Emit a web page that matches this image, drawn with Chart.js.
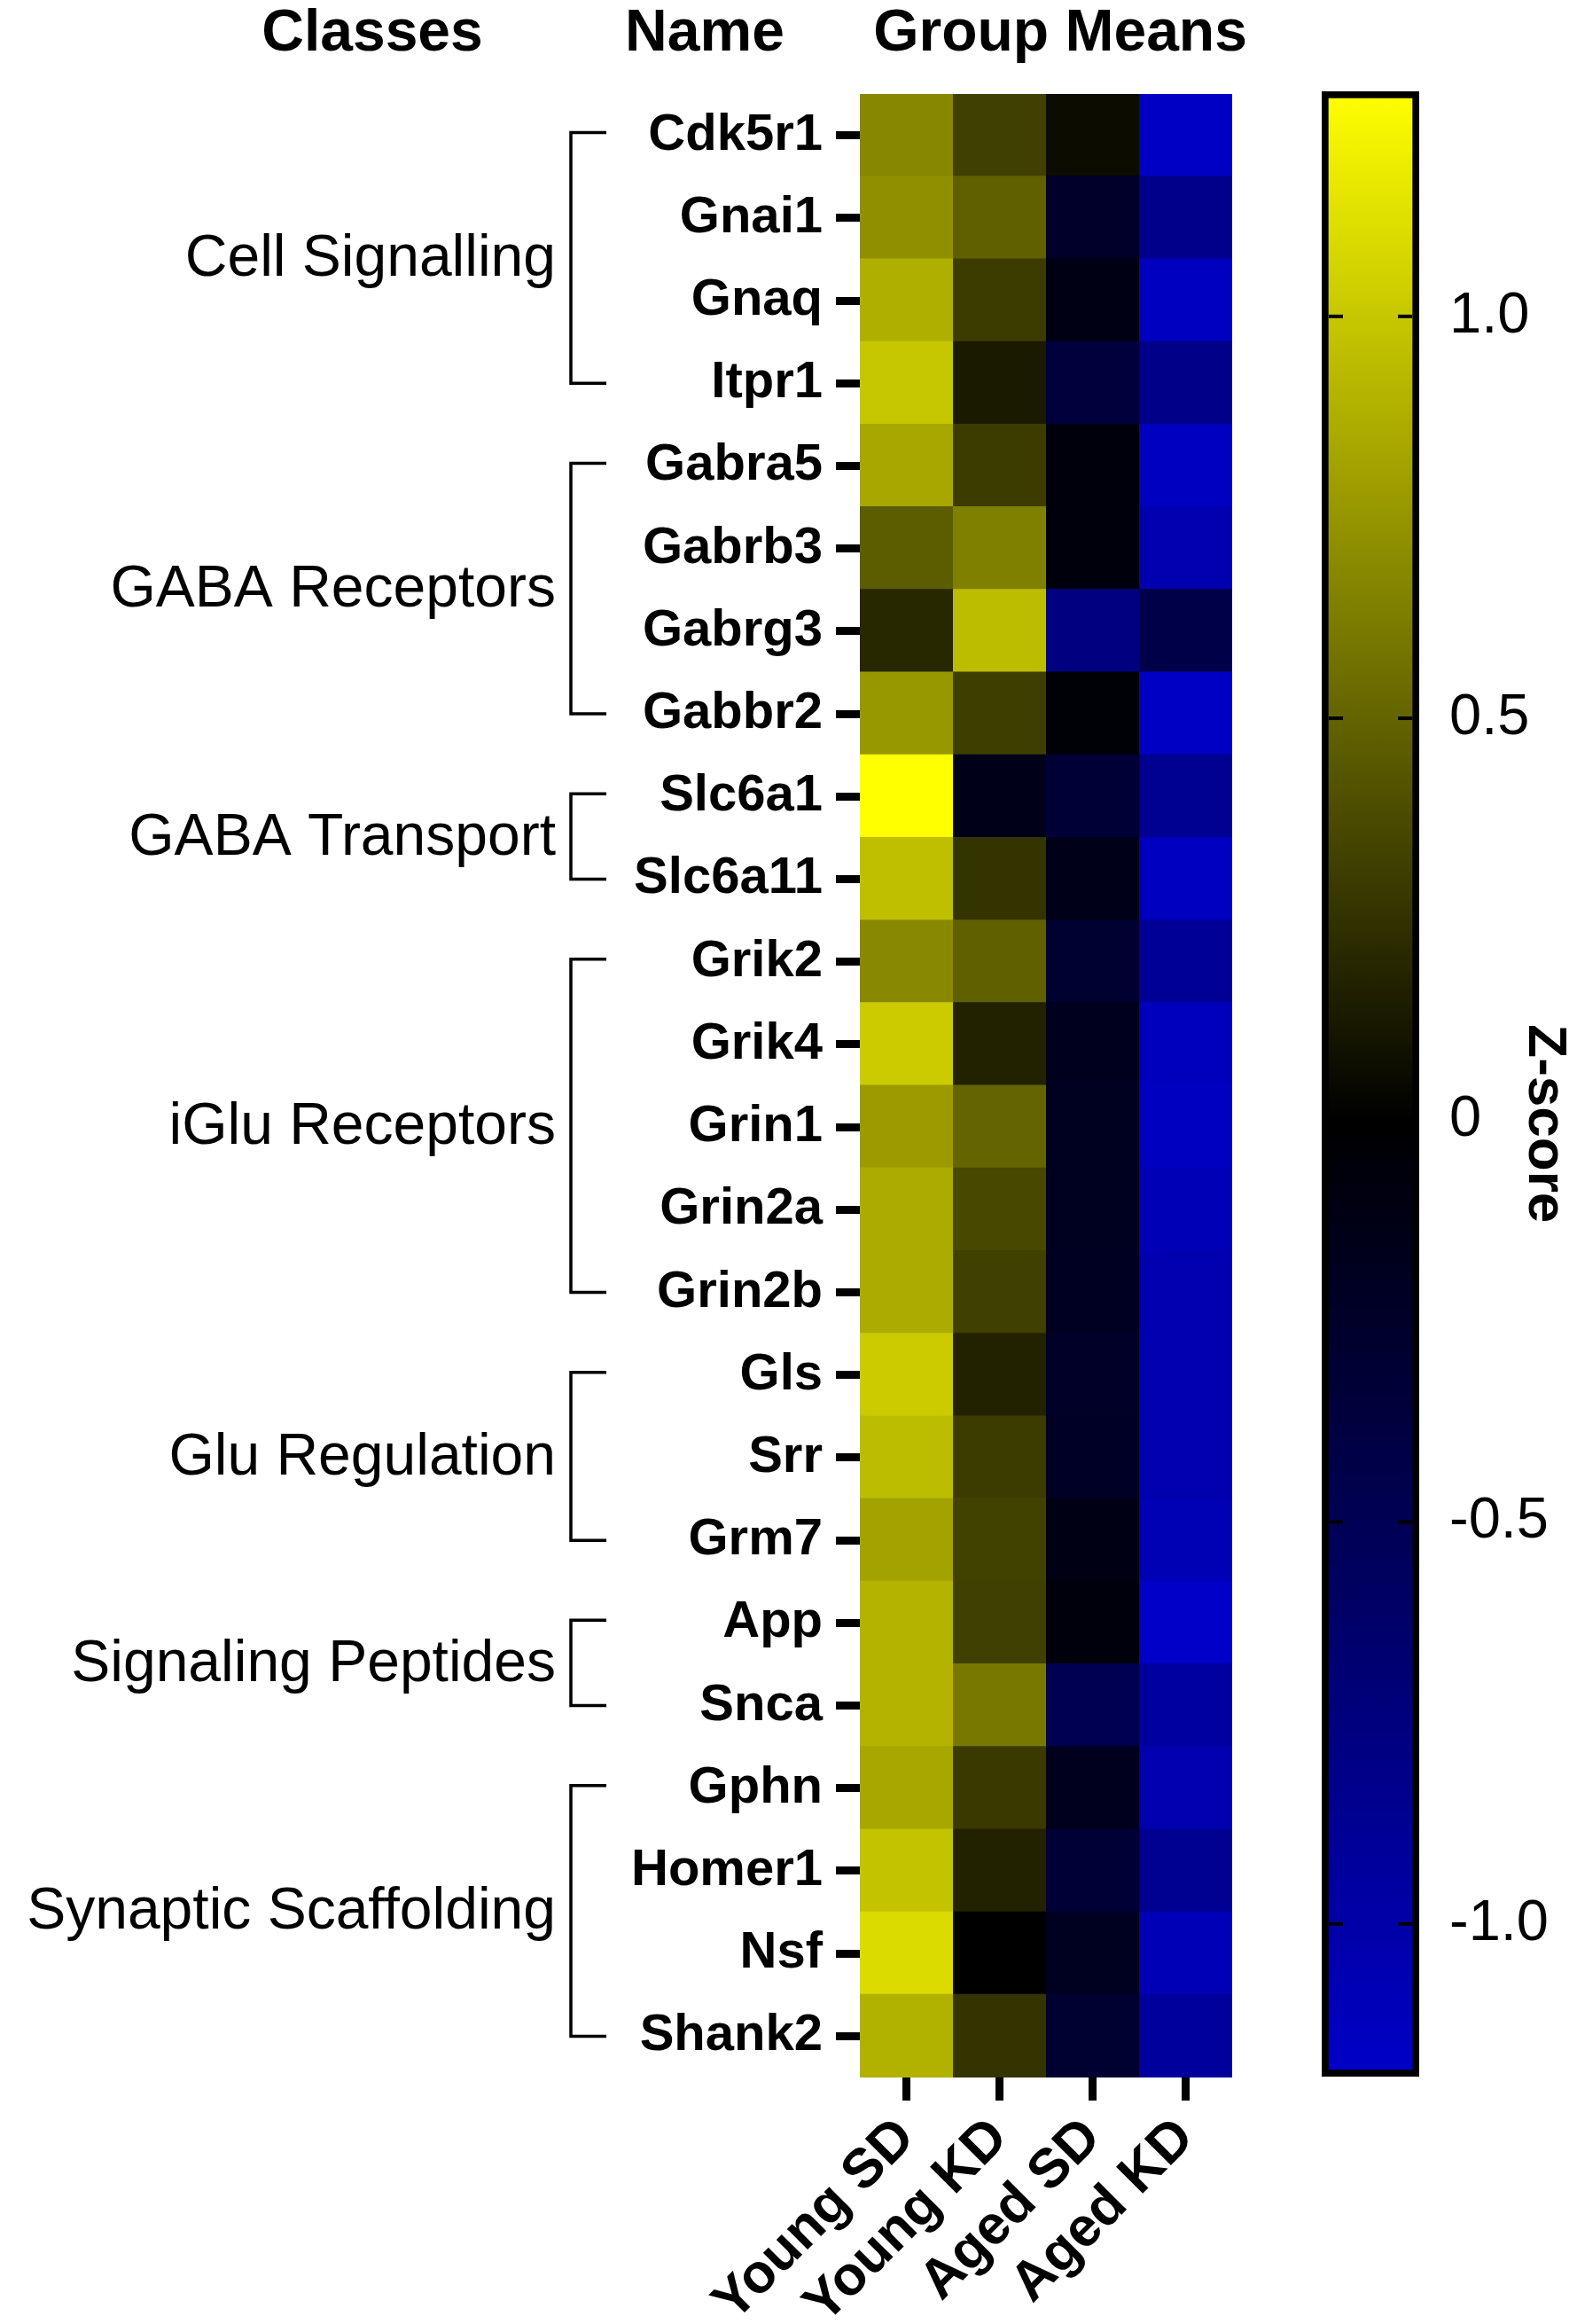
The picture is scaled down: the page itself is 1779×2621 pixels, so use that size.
<!DOCTYPE html>
<html>
<head>
<meta charset="utf-8">
<script src="https://cdn.jsdelivr.net/npm/chart.js@4.4.0/dist/chart.umd.min.js"></script>
<style>
  html, body { margin: 0; padding: 0; background: #fff; }
  #wrap { position: relative; width: 1779px; height: 2621px; }
  #heat { position: absolute; left: 0; top: 0; }
  #barra { position: absolute; left: 1460px; top: 0; }
</style>
</head>
<body>
<div id="wrap">
  <canvas id="heat" width="1460" height="2621"></canvas>
  <canvas id="barra" width="319" height="2621"></canvas>
</div>
<script>
const genes = ["Cdk5r1", "Gnai1", "Gnaq", "Itpr1", "Gabra5", "Gabrb3", "Gabrg3", "Gabbr2",
  "Slc6a1", "Slc6a11", "Grik2", "Grik4", "Grin1", "Grin2a", "Grin2b", "Gls", "Srr", "Grm7",
  "App", "Snca", "Gphn", "Homer1", "Nsf", "Shank2"];
const groups = ["Young SD", "Young KD", "Aged SD", "Aged KD"];

// z-score medio por grupo, una fila por gen
const youngSD = [0.68, 0.72, 0.88, 1.00, 0.84, 0.46, 0.20, 0.76, 1.28, 0.96, 0.69, 1.02,
  0.78, 0.86, 0.86, 1.02, 0.95, 0.82, 0.90, 0.90, 0.84, 0.98, 1.10, 0.89];
const youngKD = [0.32, 0.48, 0.30, 0.13, 0.30, 0.64, 0.95, 0.31, -0.15, 0.26, 0.48, 0.17,
  0.50, 0.36, 0.32, 0.17, 0.30, 0.33, 0.32, 0.60, 0.29, 0.17, 0.00, 0.26];
const agedSD = [0.06, -0.25, -0.12, -0.36, -0.07, -0.08, -0.76, -0.04, -0.33, -0.15, -0.29, -0.18,
  -0.19, -0.19, -0.21, -0.24, -0.23, -0.12, -0.07, -0.48, -0.18, -0.33, -0.19, -0.29];
const agedKD = [-1.17, -0.83, -1.14, -0.81, -1.14, -1.05, -0.43, -1.17, -0.86, -1.14, -0.90, -1.12,
  -1.14, -1.09, -1.05, -1.05, -1.05, -1.07, -1.19, -0.95, -1.05, -0.86, -1.09, -0.93];

const classes = ["Cell Signalling", "GABA Receptors", "GABA Transport", "iGlu Receptors",
  "Glu Regulation", "Signaling Peptides", "Synaptic Scaffolding"];
const classFirst = ["Cdk5r1", "Gabra5", "Slc6a1", "Grik2", "Gls", "App", "Gphn"];
const classLast = ["Itpr1", "Gabbr2", "Slc6a11", "Grin2b", "Grm7", "Snca", "Shank2"];

const zMin = -1.19;
const zMax = 1.28;
const zTicks = [-1.0, -0.5, 0, 0.5, 1.0];

const fuente = '"Liberation Sans", Arial, sans-serif';
const columnas = [youngSD, youngKD, agedSD, agedKD];

function colorZ(v) {
  if (v >= 0) {
    const c = Math.round(255 * Math.min(v / zMax, 1));
    return `rgb(${c},${c},0)`;
  }
  return `rgb(0,0,${Math.round(200 * Math.min(v / zMin, 1))})`;
}

// etiquetas de clase con sus corchetes y los encabezados
const clasesPlugin = {
  id: "clases",
  afterDraw(chart) {
    const { ctx, scales: { y } } = chart;
    ctx.save();
    ctx.fillStyle = "#000";
    ctx.strokeStyle = "#000";
    ctx.font = `bold 66px ${fuente}`;
    ctx.textAlign = "center";
    ctx.textBaseline = "alphabetic";
    ctx.fillText("Classes", 420, 57);
    ctx.fillText("Name", 795, 57);
    ctx.fillText("Group Means", 1196, 57);

    ctx.lineWidth = 3.5;
    ctx.font = `66px ${fuente}`;
    ctx.textAlign = "right";
    ctx.textBaseline = "middle";
    classes.forEach((nombre, i) => {
      const y0 = y.getPixelForValue(genes.indexOf(classFirst[i])) - 3;
      const y1 = y.getPixelForValue(genes.indexOf(classLast[i]));
      ctx.beginPath();
      ctx.moveTo(684, y0);
      ctx.lineTo(644, y0);
      ctx.lineTo(644, y1);
      ctx.lineTo(684, y1);
      ctx.stroke();
      ctx.fillText(nombre, 627, (y0 + y1) / 2 + 2);
    });
    ctx.restore();
  }
};

const datasets = columnas.map((vals, c) => ({
  label: groups[c],
  data: genes.map(() => [c, c + 1]),
  backgroundColor: vals.map(colorZ),
  borderWidth: 0,
  grouped: false,
  barPercentage: 1.02,
  categoryPercentage: 1
}));

new Chart(document.getElementById("heat"), {
  type: "bar",
  data: { labels: genes, datasets },
  options: {
    indexAxis: "y",
    responsive: false,
    devicePixelRatio: 1,
    animation: false,
    layout: { padding: { left: 0, top: 106, right: 70, bottom: 0 } },
    plugins: { legend: { display: false }, tooltip: { enabled: false } },
    scales: {
      x: {
        type: "linear",
        min: 0,
        max: 4,
        afterBuildTicks: s => { s.ticks = groups.map((g, i) => ({ value: i + 0.5 })); },
        afterFit: s => { s.height = 278; },
        ticks: {
          autoSkip: false,
          maxRotation: 45,
          minRotation: 45,
          color: "#000",
          padding: 6,
          font: { family: fuente, size: 62, weight: "bold" },
          callback: v => groups[Math.floor(v)]
        },
        grid: { drawOnChartArea: false, tickLength: 26, tickWidth: 9, tickColor: "#000" },
        border: { display: false }
      },
      y: {
        afterFit: s => { s.width = 970; },
        ticks: {
          color: "#000",
          padding: 15,
          font: { family: fuente, size: 58, weight: "bold" }
        },
        grid: { offset: false, drawOnChartArea: false, tickLength: 27, tickWidth: 9, tickColor: "#000" },
        border: { display: false }
      }
    }
  },
  plugins: [clasesPlugin]
});

// barra de color con marcas internas y titulo
const barraPlugin = {
  id: "barra",
  afterDatasetsDraw(chart) {
    const { ctx, chartArea, scales: { y } } = chart;
    ctx.save();
    ctx.fillStyle = "#000";
    zTicks.forEach(v => {
      const py = y.getPixelForValue(v);
      ctx.fillRect(chartArea.left + 8, py - 2, 16, 4);
      ctx.fillRect(chartArea.right - 24, py - 2, 16, 4);
    });
    ctx.translate(1742 - 1460, y.getPixelForValue(0) + 4);
    ctx.rotate(Math.PI / 2);
    ctx.font = `bold 62px ${fuente}`;
    ctx.textAlign = "center";
    ctx.textBaseline = "middle";
    ctx.fillText("Z-score", 0, 0);
    ctx.restore();
  }
};

new Chart(document.getElementById("barra"), {
  type: "bar",
  data: {
    labels: ["Z-score"],
    datasets: [{
      data: [[zMin, zMax]],
      backgroundColor: c => {
        const { chart } = c;
        if (!chart.chartArea) return "#000";
        const ys = chart.scales.y;
        const g = chart.ctx.createLinearGradient(0, ys.getPixelForValue(zMin), 0, ys.getPixelForValue(zMax));
        g.addColorStop(0, "rgb(0,0,200)");
        g.addColorStop(-zMin / (zMax - zMin), "#000");
        g.addColorStop(1, "rgb(255,255,0)");
        return g;
      },
      borderColor: "#000",
      borderWidth: 8,
      borderSkipped: false,
      barPercentage: 1,
      categoryPercentage: 1
    }]
  },
  options: {
    responsive: false,
    devicePixelRatio: 1,
    animation: false,
    layout: { padding: { left: 31, top: 103, right: 0, bottom: 279 } },
    plugins: { legend: { display: false }, tooltip: { enabled: false } },
    scales: {
      x: { display: false },
      y: {
        position: "right",
        min: zMin,
        max: zMax,
        afterBuildTicks: s => { s.ticks = zTicks.map(v => ({ value: v })); },
        afterFit: s => { s.width = 178; },
        ticks: {
          color: "#000",
          padding: 34,
          font: { family: fuente, size: 65 },
          callback: v => (v === 0 ? "0" : v.toFixed(1))
        },
        grid: { drawOnChartArea: false, drawTicks: false },
        border: { display: false }
      }
    }
  },
  plugins: [barraPlugin]
});
</script>
</body>
</html>
